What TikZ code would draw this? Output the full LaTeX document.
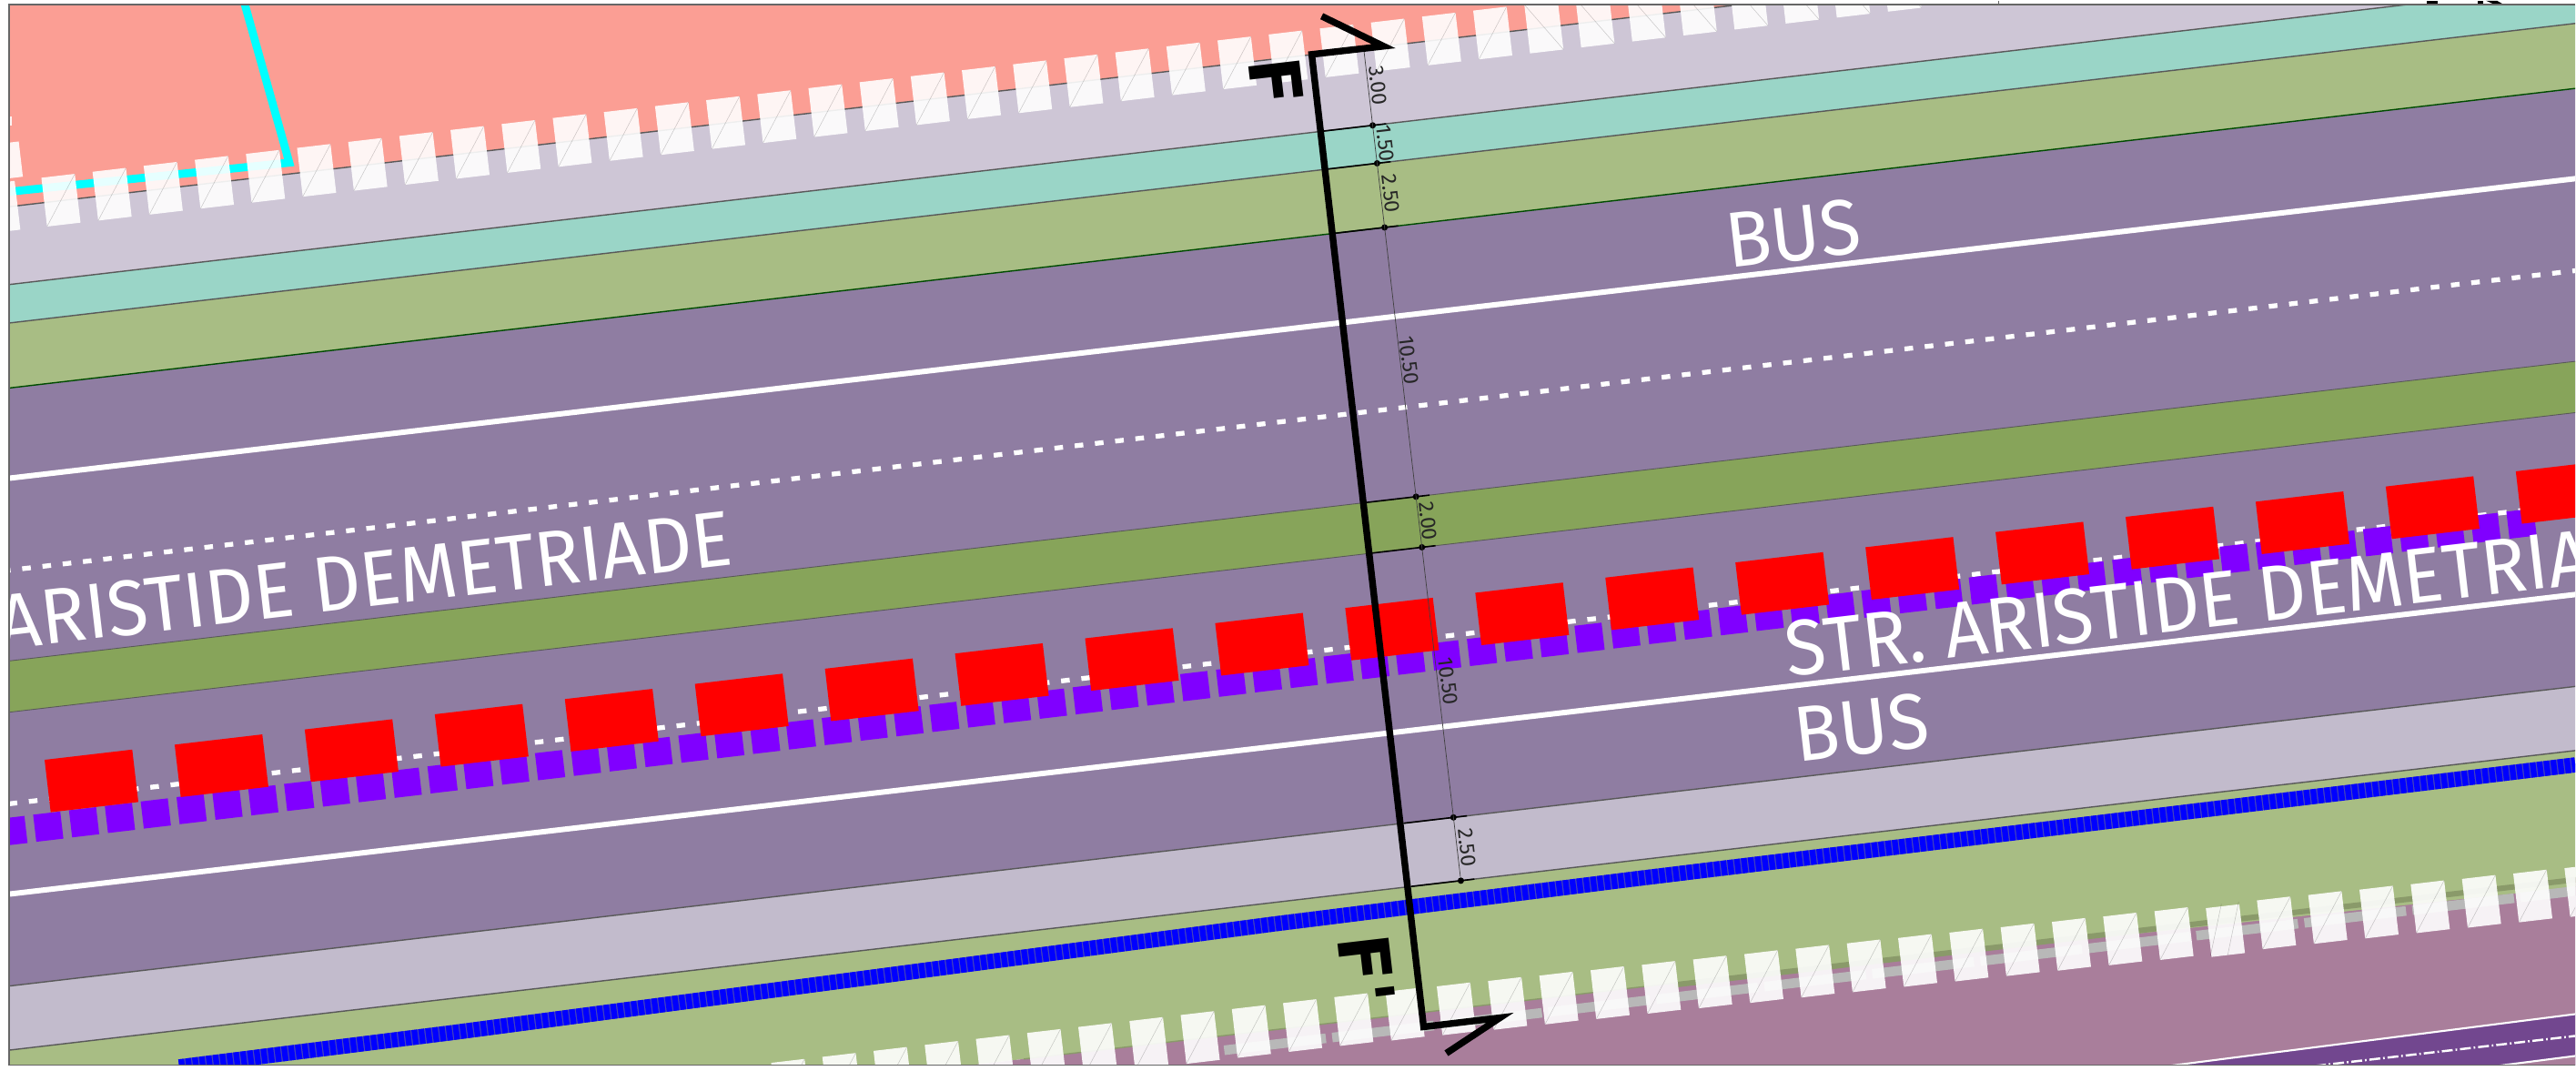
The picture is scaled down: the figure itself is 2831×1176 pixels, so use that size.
\documentclass[tikz,border=0pt]{standalone}
\usepackage{fontspec}
\setmainfont{Fira Sans}
\newfontfamily\roadfont[FakeStretch=0.95]{Fira Sans}
\newfontfamily\markfont{DejaVu Sans}
\definecolor{parcelpink}{HTML}{FB9E94}
\definecolor{walklilac}{HTML}{CEC6D6}
\definecolor{bikegreen}{HTML}{9AD5C7}
\definecolor{verge}{HTML}{A8BD84}
\definecolor{lane}{HTML}{8F7DA2}
\definecolor{median}{HTML}{87A45A}
\definecolor{kerb}{HTML}{C2BBCC}
\definecolor{mauve}{HTML}{A97E9B}
\definecolor{railviolet}{HTML}{72478F}
\definecolor{olive}{HTML}{8A9A6A}
\definecolor{stopviolet}{HTML}{8000FF}
\definecolor{lotcyan}{HTML}{00FFFF}

\begin{document}
\begin{tikzpicture}[x=0.01cm,y=-0.01cm]

\tikzstyle{edgeline} = [draw=black!65, line width=0.4pt]
\tikzstyle{tickline} = [draw=black, line width=0.45pt]
\tikzstyle{dimline} = [draw=black!75, line width=0.2pt]
\tikzstyle{dimdot} = [circle, fill=black, inner sep=0pt, minimum size=2pt]
\tikzstyle{dimlabel} = [inner sep=0pt, rotate=-83.34, text=black!85, font=\fontsize{6.6}{7}\selectfont]
\tikzstyle{roadlabel} = [inner sep=0pt, rotate=6.66, text=white, font=\roadfont\fontsize{24.5}{25}\selectfont]
\tikzstyle{cutlabel} = [inner sep=0pt, rotate=-83.34, text=black, font=\markfont\bfseries\fontsize{22}{23}\selectfont]
\tikzstyle{crossing} = [fill=white, fill opacity=0.9]
\tikzstyle{crossdiag} = [draw=black, draw opacity=0.2, line width=0.15pt]
\tikzstyle{dashmark} = [draw=white, line width=1.5pt, dash pattern=on 2.7pt off 3.67pt]

\fill[white] (0,0) rectangle (2831,1176);
\fill[black] (2668,0) rectangle (2680,4);
\fill[black] (2724,0) rectangle (2730,4);
\fill[black] (2733,0) -- (2745,0) -- (2752,4) -- (2742,4) -- cycle;
\draw[black!60, line width=0.45pt] (2197,0) -- (2197,4);

\begin{scope}
\clip (10,5) rectangle (2831,1170);

\begin{scope}[shift={(1509,137)}, rotate=6.66]
\fill[parcelpink] (-1800,-800) rectangle (1500,-85);
\fill[walklilac] (-1800,-85) rectangle (1500,0);
\fill[bikegreen] (-1800,0) rectangle (1500,42);
\fill[verge] (-1800,42) rectangle (1500,113);
\fill[lane] (-1800,113) rectangle (1500,766);
\fill[median] (-1800,411) rectangle (1500,467);
\fill[kerb] (-1800,766) rectangle (1500,836);
\fill[verge] (-1800,836) rectangle (1500,975);
\fill[mauve] (-1800,975) rectangle (1500,1400);
\fill[verge] (250,975) -- (1500,975) -- (1500,988) -- cycle;
\fill[olive] (220,974) rectangle (1500,980);
\draw[edgeline] (-1800,-85) -- (1500,-85);
\draw[edgeline] (-1800,0) -- (1500,0);
\draw[edgeline] (-1800,42) -- (1500,42);
\draw[edgeline, draw=green!30!black] (-1800,113) -- (1500,113);
\draw[edgeline, line width=0.25pt] (-1800,411) -- (1500,411);
\draw[edgeline, line width=0.25pt] (-1800,467) -- (1500,467);
\draw[edgeline] (-1800,766) -- (1500,766);
\draw[edgeline] (-1800,836) -- (1500,836);
\draw[olive, line width=0.4pt] (-500,975) -- (220,975);
\draw[black!28, line width=3pt, dash pattern=on 32pt off 2pt] (-280,991) -- (1500,989);
\draw[white, line width=1.7pt] (-1800,211.5) -- (1500,211.5);
\draw[dashmark] (-1800,312) -- (1500,312);
\draw[white, line width=1.7pt] (-1800,665.6) -- (1500,665.6);
\draw[dashmark] (-1800,567) -- (1500,567);
\end{scope}

\fill[railviolet] (2376,1172) -- (2831,1114) -- (2831,1172) -- cycle;
\fill[mauve] (2745,1172) -- (2831,1160) -- (2831,1172) -- cycle;
\draw[white, line width=0.6pt] (2376,1172) -- (2831,1114);
\draw[white, line width=0.6pt] (2745,1171) -- (2831,1160);
\draw[white, line width=0.7pt, dash pattern=on 3.4pt off 0.9pt on 0.5pt off 0.9pt] (2545,1171) -- (2831,1138);

\draw[lotcyan, line width=2.5pt] (268,0) -- (318,178) -- (0,211);
\draw[blue!45!gray, line width=4.7pt] (197,1172) -- (500,1134) -- (1400,1015) -- (1800,965) -- (2831,840);
\draw[blue, line width=4.7pt, dash pattern=on 1.8pt off 0.36pt] (197,1172) -- (500,1134) -- (1400,1015) -- (1800,965) -- (2831,840);

\begin{scope}[shift={(1509,137)}, rotate=6.66]
\foreach \i in {-26,...,10} {
  \pgfmathsetmacro\u{11.2+56.6*\i}
  \fill[crossing] (\u,-112.5) rectangle ++(37,54);
  \ifnum\i<3
    \draw[crossdiag] (\u,-58.5) -- ++(37,-54);
  \else
    \draw[crossdiag] (\u,-112.5) -- ++(37,54);
  \fi
}
\fill[crossing] (-1517,-155) rectangle (-1480.5,-116);
\fill[crossing] (-1530,-112.5) rectangle (-1490,-58.5);
\foreach \k in {-28,-27,...,1,3,4,...,12} {
  \pgfmathsetmacro\u{696.8+56.66*\k}
  \pgfmathsetmacro\w{947+0.0118*max(\u+155,0)}
  \fill[crossing] (\u,\w) rectangle ++(37,54);
  \draw[crossdiag] (\u,\w+54) -- ++(37,-54);
}
\fill[crossing] (810,961) rectangle (847,1015);
\foreach \i in {-1,0,...,69} {
  \pgfmathsetmacro\u{-1535.6+39.7*\i}
  \pgfmathsetmacro\w{589-0.0057*(\u+145)}
  \fill[stopviolet] (\u-15,\w-15) rectangle ++(30,30);
}
\foreach \i in {0,1,...,19} {
  \pgfmathsetmacro\u{-1482.6+143.96*\i}
  \fill[red] (\u-48.5,552.5-29) rectangle ++(97,58);
}
\end{scope}
\fill[crossing] (10,127) rectangle (13,137);
\draw[crossdiag] (2430,1050) -- (2442,993);
\draw[crossdiag] (2449,1049) -- (2461,990.5);

\node (busup) [roadlabel] at (1971,256) {BUS};
\node (busdown) [roadlabel] at (2046,799) {BUS};
\node (streetleft) [roadlabel] at (401,637) {ARISTIDE DEMETRIADE};
\node (streetright) [roadlabel, anchor=west] at (1962,714) {STR. ARISTIDE DEMETRIA};

\begin{scope}[shift={(1509,137)}, rotate=6.66]
\coordinate (dimtop) at (0,-85);
\foreach \n/\w in {a/0,b/42,c/113,d/411,e/467,f/766,g/836} {
  \draw[tickline] (-55,\w) -- (15,\w);
  \node (dot\n) [dimdot] at (0,\w) {};
}
\end{scope}
\draw[dimline] (dimtop) -- (dotg);

\node (dimthree) [dimlabel] at (1515,93) {3.00};
\node (dimbike) [dimlabel] at (1523,157) {1.50};
\node (dimverge) [dimlabel] at (1529,212) {2.50};
\node (dimlaneup) [dimlabel] at (1549,395) {10.50};
\node (dimmedian) [dimlabel] at (1570,572) {2.00};
\node (dimlanedown) [dimlabel] at (1592,748) {10.50};
\node (dimkerb) [dimlabel] at (1613,931) {2.50};

\coordinate (cuttopback) at (1453,17);
\coordinate (cuttoptip) at (1521,50);
\coordinate (cuttop) at (1442,59);
\coordinate (cutbottom) at (1565,1128);
\coordinate (cutbottomtip) at (1649,1118);
\coordinate (cutbottomback) at (1590,1157);
\draw[black, line width=2.1pt, miter limit=10] (cuttopback) -- (cuttoptip) -- (cuttop) -- (cutbottom) -- (cutbottomtip) -- (cutbottomback);

\node (cutnameup) [cutlabel] at (1403,89) {F};
\node (cutnamedown) [cutlabel] at (1502,1065) {F'};
\end{scope}

\draw[black!60, line width=0.5pt] (2831,4.5) -- (10,4.5) -- (10,1170) -- (2831,1170);
\useasboundingbox (0,0) rectangle (2831,1176);

\end{tikzpicture}
\end{document}
